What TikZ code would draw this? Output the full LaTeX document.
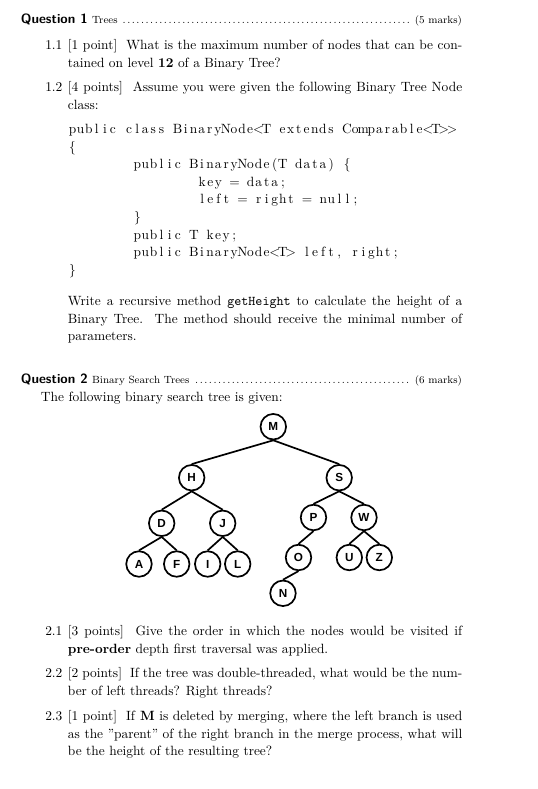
\documentclass[tikz,border=0pt]{standalone}
\usepackage{fontspec}
\usepackage{tikz}
\newfontfamily\treefont{Liberation Sans}
\newlength\codecolwd
\setlength\codecolwd{6.2pt}
\ExplSyntaxOn
\NewDocumentCommand\codetext{m}
  {\str_map_inline:nn {#1} {\makebox[\codecolwd]{##1}}}
\ExplSyntaxOff
\newcommand\fullline[1]{\makebox[302.8pt][s]{#1}}
\newcommand\headline[1]{\hbox to 338.7pt{#1}}
\begin{document}
\begin{tikzpicture}[x=0.768pt,y=-0.768pt,
  every node/.style={inner sep=0pt,anchor=base west,font=\fontsize{10.3}{13.6}\selectfont},
  bst/.style={circle,draw,line width=1.3pt,minimum size=19.6pt,anchor=center,
    font=\treefont\bfseries\fontsize{9}{10}\selectfont},
  branch/.style={line width=1.3pt}]
\useasboundingbox (0,0) rectangle (537,789);
%%
  % Node: q1
  \node (q1) at (20.7,24) {\headline{{\sffamily\bfseries Question 1} {\footnotesize Trees \dotfill\ (5 marks)}}};
  % Node: i11
  \node (l11) at (45,49.5) {1.1};
  \node (i11a) at (67.7,49.5) {\fullline{[1 point]\ \ What is the maximum number of nodes that can be con-}};
  \node (i11b) at (67.7,67.2) {tained on level \textbf{12} of a Binary Tree?};
  % Node: i12
  \node (l12) at (45,92) {1.2};
  \node (i12a) at (67.7,92) {\fullline{[4 points]\ \ Assume you were given the following Binary Tree Node}};
  \node (i12b) at (67.7,109.7) {class:};
  % Node: code
  \node (code1) at (68.3,133.5) {\codetext{public class BinaryNode<T extends Comparable<T>>}};
  \node (code2) at (68.3,151.1) {\makebox[\codecolwd]{\{}};
  \node (code3) at (133.1,168.7) {\codetext{public BinaryNode(T data) }\makebox[\codecolwd]{\{}};
  \node (code4) at (197.9,186.3) {\codetext{key = data;}};
  \node (code5) at (197.9,203.9) {\codetext{left = right = null;}};
  \node (code6) at (133.1,221.5) {\makebox[\codecolwd]{\}}};
  \node (code7) at (133.1,239.1) {\codetext{public T key;}};
  \node (code8) at (133.1,256.7) {\codetext{public BinaryNode<T> left, right;}};
  \node (code9) at (68.3,274.3) {\makebox[\codecolwd]{\}}};
  % Node: task
  \node (taska) at (67.7,305.5) {\fullline{Write a recursive method \texttt{getHeight} to calculate the height of a}};
  \node (taskb) at (67.7,323.2) {\fullline{Binary Tree.\ \ The method should receive the minimal number of}};
  \node (taskc) at (67.7,340.9) {parameters.};
  % Node: q2
  \node (q2) at (20.7,383.5) {\headline{{\sffamily\bfseries Question 2} {\footnotesize Binary Search Trees \dotfill\ (6 marks)}}};
  \node (given) at (40.7,401) {The following binary search tree is given:};
%%
  % Node: M
  \node[bst] (M) at (273.3,426.7) {M};
  \node[bst] (H) at (191.7,477.7) {H};
  \node[bst] (S) at (339.2,477.7) {S};
  \node[bst] (D) at (161.7,523.3) {D};
  \node[bst] (J) at (222.7,523.3) {J};
  \node[bst] (P) at (313.5,517.5) {P};
  \node[bst] (W) at (364,517.5) {W};
  \node[bst] (A) at (139,564) {A};
  \node[bst] (F) at (176.7,564) {F};
  \node[bst] (I) at (207.7,564) {I};
  \node[bst] (L) at (237.7,564) {L};
  \node[bst] (O) at (298.5,557.5) {O};
  \node[bst] (U) at (349.3,557.5) {U};
  \node[bst] (Z) at (379.3,557.5) {Z};
  \node[bst] (N) at (283,593.3) {N};
  % Edge: M -> H, M -> S
  \draw[branch] (M.south) -- (H.north);
  \draw[branch] (M.south) -- (S.north);
  % Edge: H -> D, H -> J
  \draw[branch] (H.south) -- (D.north);
  \draw[branch] (H.south) -- (J.north);
  % Edge: D -> A, D -> F
  \draw[branch] (D.south) -- (A.north);
  \draw[branch] (D.south) -- (F.north);
  % Edge: J -> I, J -> L
  \draw[branch] (J.south) -- (I.north);
  \draw[branch] (J.south) -- (L.north);
  % Edge: S -> P, S -> W
  \draw[branch] (S.south) -- (P.north);
  \draw[branch] (S.south) -- (W.north);
  % Edge: P -> O -> N
  \draw[branch] (P.south) -- (O.north);
  \draw[branch] (O.south) -- (N.north);
  % Edge: W -> U, W -> Z
  \draw[branch] (W.south) -- (U.north);
  \draw[branch] (W.south) -- (Z.north);
%%
  % Node: i21
  \node (l21) at (45,635.5) {2.1};
  \node (i21a) at (67.7,635.5) {\fullline{[3 points]\ \ Give the order in which the nodes would be visited if}};
  \node (i21b) at (67.7,653.2) {\textbf{pre-order} depth first traversal was applied.};
  % Node: i22
  \node (l22) at (45,677.5) {2.2};
  \node (i22a) at (67.7,677.5) {\fullline{[2 points]\ \ If the tree was double-threaded, what would be the num-}};
  \node (i22b) at (67.7,695.2) {ber of left threads? Right threads?};
  % Node: i23
  \node (l23) at (45,720.5) {2.3};
  \node (i23a) at (67.7,720.5) {\fullline{[1 point]\ \ If \textbf{M} is deleted by merging, where the left branch is used}};
  \node (i23b) at (67.7,738.2) {\fullline{as the ''parent'' of the right branch in the merge process, what will}};
  \node (i23c) at (67.7,755.9) {be the height of the resulting tree?};
%
\end{tikzpicture}
\end{document}
